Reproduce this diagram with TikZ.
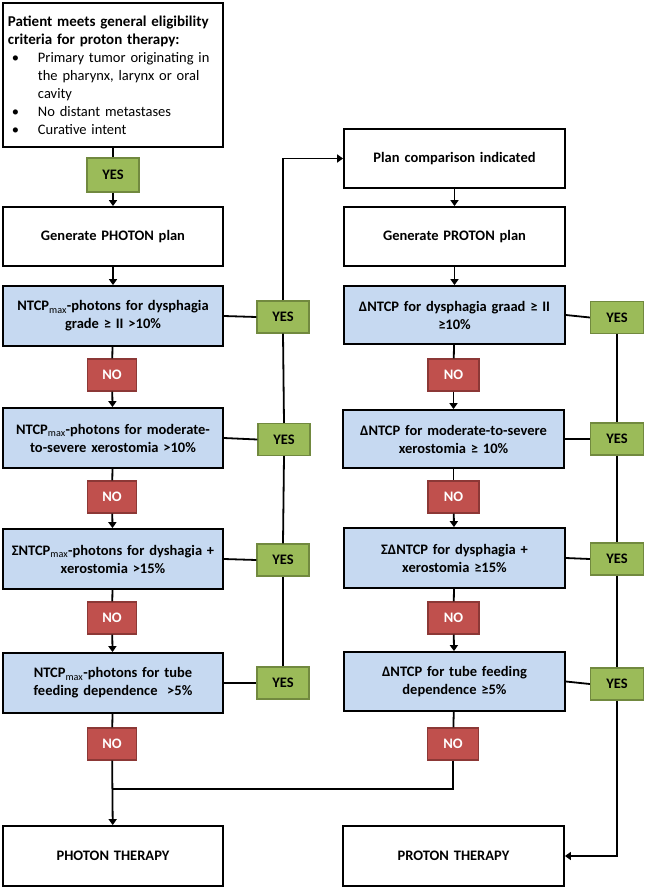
\documentclass[tikz,border=0pt]{standalone}
\usepackage{fontspec}
\setmainfont{Carlito}
\usetikzlibrary{arrows.meta}
\definecolor{boxblue}{RGB}{198,217,241}
\definecolor{yesgreen}{RGB}{155,187,89}
\definecolor{yesborder}{RGB}{113,137,63}
\definecolor{nored}{RGB}{192,80,77}
\definecolor{noborder}{RGB}{140,56,54}
\newcommand{\mx}{\textsubscript{\mdseries max}}
\begin{document}
\begin{tikzpicture}[x=1pt,y=-1pt,
  font=\fontsize{14.5}{18}\selectfont\bfseries,
  base/.style={draw=black, line width=1.8pt, minimum width=220pt, inner sep=0pt, align=center, text width=212pt},
  whitebox/.style={base, fill=white, minimum height=59pt},
  bluebox/.style={base, fill=boxblue, minimum height=59pt},
  yesbox/.style={draw=yesborder, fill=yesgreen, line width=1.2pt, minimum width=52pt, minimum height=32pt, inner sep=0pt},
  nobox/.style={draw=noborder, fill=nored, text=white, line width=1.2pt, minimum width=49pt, minimum height=32pt, inner sep=0pt},
  conn/.style={line width=1.8pt},
  arr/.style={conn, -{Triangle[length=6pt,width=8pt]}}
]
\useasboundingbox (0,0) rectangle (646,889);

% left column
\node[base, fill=white, align=left, text width=210pt, inner xsep=5pt, minimum height=144pt] (top) at (113,75)
 {\fontsize{15}{18}\selectfont\mbox{Patient meets general eligibility}\\
  \mbox{criteria for proton therapy:}\\
  \fontsize{14.5}{18}\selectfont\mdseries\hspace*{4pt}\makebox[26pt][l]{\textbullet}Primary tumor originating in\\
  \hspace*{30pt}the pharynx, larynx or oral\\
  \hspace*{30pt}cavity\\
  \hspace*{4pt}\makebox[26pt][l]{\textbullet}No distant metastases\\
  \hspace*{4pt}\makebox[26pt][l]{\textbullet}Curative intent};
\node[yesbox, minimum height=34pt] (yes0) at (113,175) {YES};
\node[whitebox] (photonplan) at (113,236.5) {Generate PHOTON plan};
\node[bluebox, minimum height=60pt] (l1) at (113,316) {NTCP\mx-photons for dysphagia\\grade ≥ II >10\%};
\node[bluebox, minimum height=60pt] (l2) at (113,438) {NTCP\mx-photons for moderate-\\to-severe xerostomia >10\%};
\node[bluebox, minimum height=60pt] (l3) at (113,559) {ΣNTCP\mx-photons for dyshagia +\\xerostomia >15\%};
\node[bluebox, minimum height=60pt] (l4) at (113,683) {NTCP\mx-photons for tube\\feeding dependence\ \ >5\%};
\node[nobox] (ln1) at (112,375) {NO};
\node[nobox] (ln2) at (112,497) {NO};
\node[nobox] (ln3) at (112,618) {NO};
\node[nobox] (ln4) at (112,744) {NO};
\node[yesbox] (ly1) at (283,317) {YES};
\node[yesbox] (ly2) at (284,439.5) {YES};
\node[yesbox] (ly3) at (283,560) {YES};
\node[yesbox] (ly4) at (283,683) {YES};
\node[whitebox, minimum height=60pt] (photon) at (113,856) {PHOTON THERAPY};

% right column
\node[whitebox, minimum width=221pt] (plan) at (454.5,158.5) {Plan comparison indicated};
\node[whitebox, minimum width=221pt] (protonplan) at (454.5,236.5) {Generate PROTON plan};
\node[bluebox, minimum width=221pt, minimum height=58pt] (r1) at (454.5,315) {ΔNTCP for dysphagia graad ≥ II\\≥10\%};
\node[bluebox, minimum width=221pt, minimum height=58pt] (r2) at (453.5,439) {ΔNTCP for moderate-to-severe\\xerostomia ≥ 10\%};
\node[bluebox, minimum width=221pt, minimum height=60pt] (r3) at (454.5,558) {ΣΔNTCP for dysphagia +\\xerostomia ≥15\%};
\node[bluebox, minimum width=221pt] (r4) at (454.5,681.5) {ΔNTCP for tube feeding\\dependence ≥5\%};
\node[nobox, minimum width=51pt] (rn1) at (453.5,375) {NO};
\node[nobox, minimum width=51pt] (rn2) at (453.5,497) {NO};
\node[nobox, minimum width=51pt] (rn3) at (453.5,618) {NO};
\node[nobox, minimum width=51pt] (rn4) at (453,744) {NO};
\node[yesbox, minimum width=53pt] (ry1) at (617,317.5) {YES};
\node[yesbox, minimum width=53pt] (ry2) at (617,439) {YES};
\node[yesbox, minimum width=53pt] (ry3) at (617,559) {YES};
\node[yesbox, minimum width=53pt] (ry4) at (617,684) {YES};
\node[whitebox, minimum width=221pt, minimum height=60pt] (proton) at (453.5,856) {PROTON THERAPY};

\coordinate (join) at (113,789);

% connectors left
\draw[conn] (top) -- (yes0);
\draw[arr] (yes0) -- (photonplan);
\draw[arr] (photonplan) -- (l1);
\draw[conn] (l1) -- (ln1); \draw[arr] (ln1) -- (l2);
\draw[conn] (l2) -- (ln2); \draw[arr] (ln2) -- (l3);
\draw[conn] (l3) -- (ln3); \draw[arr] (ln3) -- (l4);
\draw[conn] (l4) -- (ln4); \draw[arr] (ln4) -- (photon);
\draw[conn] (l1.east) -- (ly1.west);
\draw[conn] (l2.east) -- (ly2.west);
\draw[conn] (l3.east) -- (ly3.west);
\draw[conn] (l4.east) -- (ly4.west);
\draw[conn] (ly4.north) -- (ly3.south);
\draw[conn] (ly3.north) -- (ly2.south);
\draw[conn] (ly2.north) -- (ly1.south);
\draw[arr] (ly1.north) |- (plan.west);

% connectors right
\draw[arr] (plan) -- (protonplan);
\draw[arr] (protonplan) -- (r1);
\draw[conn] (r1) -- (rn1); \draw[arr] (rn1) -- (r2);
\draw[conn] (r2) -- (rn2); \draw[arr] (rn2) -- (r3);
\draw[conn] (r3) -- (rn3); \draw[arr] (rn3) -- (r4);
\draw[conn] (r4) -- (rn4);
\draw[conn] (rn4.south) |- (join);
\draw[conn] (r1.east) -- (ry1.west);
\draw[conn] (r2.east) -- (ry2.west);
\draw[conn] (r3.east) -- (ry3.west);
\draw[conn] (r4.east) -- (ry4.west);
\draw[conn] (ry1.south) -- (ry2.north);
\draw[conn] (ry2.south) -- (ry3.north);
\draw[conn] (ry3.south) -- (ry4.north);
\draw[arr] (ry4.south) |- (proton.east);
\end{tikzpicture}
\end{document}
